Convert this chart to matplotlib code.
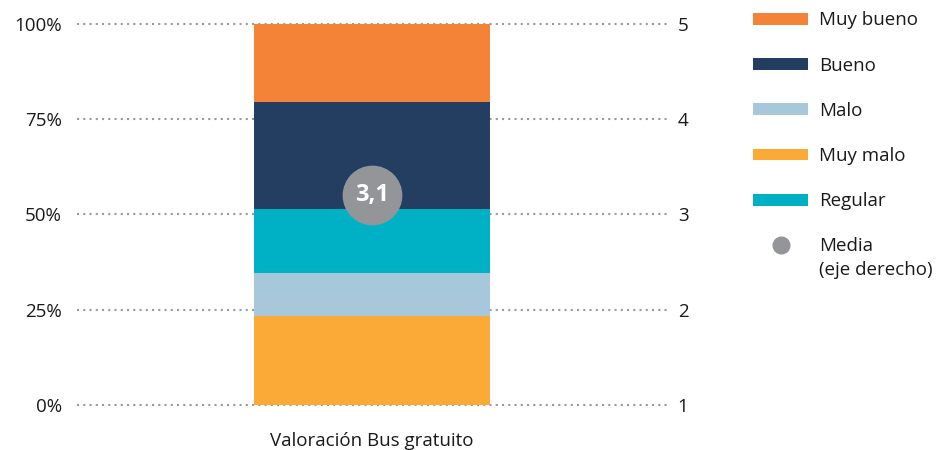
import matplotlib
matplotlib.use('Agg')
import matplotlib.pyplot as plt
import matplotlib.transforms as mtransforms
from matplotlib.patches import Patch
from matplotlib.lines import Line2D

plt.rcParams['font.family'] = ['Open Sans', 'DejaVu Sans']

category = 'Valoración Bus gratuito'
# stacked from bottom to top, in %
levels = ['Muy malo', 'Malo', 'Regular', 'Bueno', 'Muy bueno']
shares = [23.4, 11.3, 16.7, 28.2, 20.4]
colors = {'Muy malo': '#FBAA38', 'Malo': '#A7C8DB', 'Regular': '#00B0C4',
          'Bueno': '#233E60', 'Muy bueno': '#F58337'}
legend_order = ['Muy bueno', 'Bueno', 'Malo', 'Muy malo', 'Regular']
mean = 3.1
mean_color = '#939598'
txt = '#1a1a1a'
fs = 13.5

fig = plt.figure(figsize=(9.51, 4.5), dpi=100)
ax = fig.add_axes([0.081, 0.0916, 0.620, 0.8636])

bottom = 0
for lev, v in zip(levels, shares):
    ax.bar(0, v / 100, width=0.4, bottom=bottom / 100, color=colors[lev], zorder=2)
    bottom += v

ax.set_xlim(-0.5, 0.5)
ax.set_ylim(-0.01, 1.01)
ax.set_yticks([0, 0.25, 0.5, 0.75, 1.0])
ax.set_yticklabels(['0%', '25%', '50%', '75%', '100%'])
ax.set_xticks([0])
ax.set_xticklabels([category])
ax.yaxis.grid(True, linestyle=(0, (1, 2)), linewidth=1.5, color='#9a9a9a', zorder=0)
for s in ax.spines.values():
    s.set_visible(False)
ax.tick_params(axis='y', length=0, pad=11, labelsize=fs, labelcolor=txt)
ax.tick_params(axis='x', length=0, pad=17, labelsize=fs, labelcolor=txt)

ax2 = ax.twinx()
ax2.set_ylim(1 - 0.04, 5 + 0.04)
ax2.set_yticks([1, 2, 3, 4, 5])
for s in ax2.spines.values():
    s.set_visible(False)
ax2.tick_params(axis='y', length=0, pad=8, labelsize=fs, labelcolor=txt)

# mean bubble, label sits a little above the point
tr = mtransforms.offset_copy(ax2.transData, fig=fig, y=10, units='dots')
ax2.plot([0], [mean], 'o', ms=42, color=mean_color, transform=tr, zorder=3)
ax2.text(0, mean, f'{mean:.1f}'.replace('.', ','), transform=tr, ha='center', va='center',
         color='white', fontsize=17, fontweight='bold', zorder=4)

handles = [Patch(facecolor=colors[l], label=l) for l in legend_order]
handles.append(Line2D([], [], marker='o', ms=12, color=mean_color, linestyle='none',
                      label='Media'))
leg = fig.legend(handles=handles, loc='upper left', bbox_to_anchor=(0.792, 0.9745),
                 frameon=False, fontsize=fs, handlelength=2.93, handleheight=0.59,
                 handletextpad=0.6, labelspacing=1.45, borderpad=0, borderaxespad=0)
for t in leg.get_texts():
    t.set_color(txt)

# second line of the "Media" entry, placed under it once the legend is laid out
fig.canvas.draw()
bb = leg.get_texts()[-1].get_window_extent()
fw, fh = fig.bbox.width, fig.bbox.height
fig.text(bb.x0 / fw, (bb.y0 - 6) / fh, '(eje derecho)', ha='left', va='top',
         fontsize=fs, color=txt)

fig.savefig('out.png', dpi=100)
